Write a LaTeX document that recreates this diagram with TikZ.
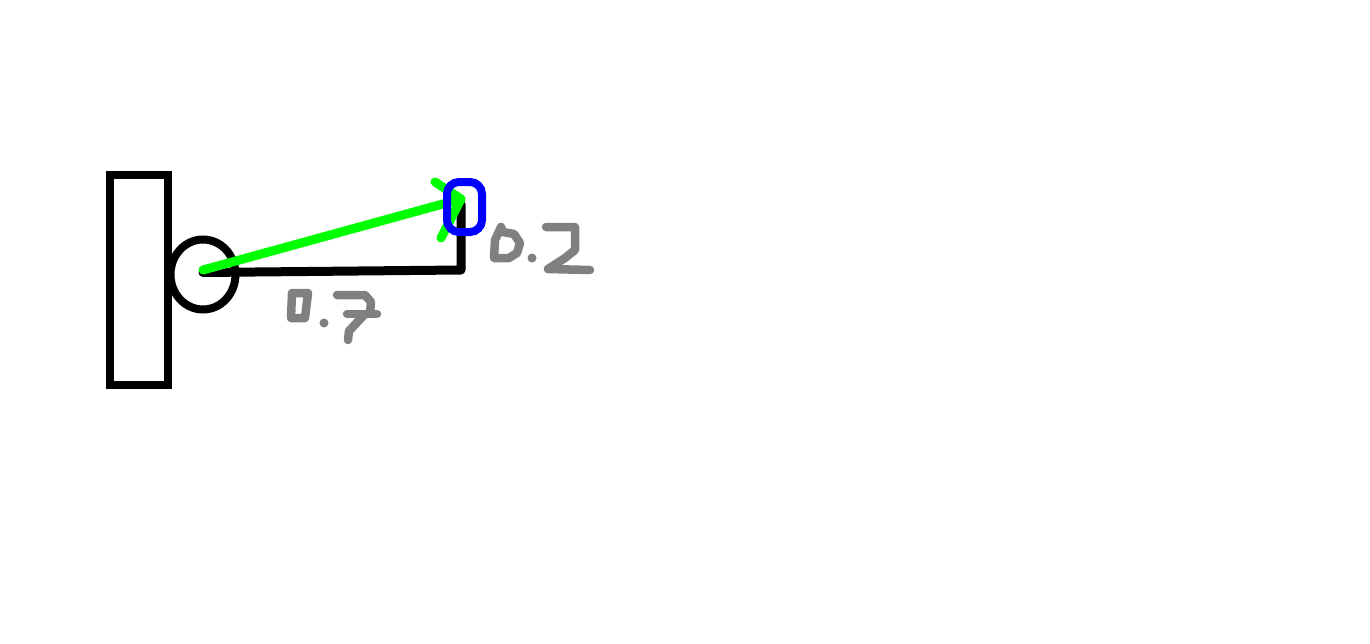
\documentclass[tikz,border=0pt]{standalone}
\tikzset{
  ink/.style={line width=9pt,line cap=round,line join=round},
  wall/.style={draw=black,line width=8pt,fill=white,miter limit=10},
  green line/.style={ink,draw={rgb,255:red,0;green,255;blue,0}},
  blue box/.style={draw={rgb,255:red,0;green,0;blue,255},line width=8pt,rounded corners=12pt},
  hand/.style={draw={rgb,255:red,128;green,128;blue,128},line width=8.5pt,line cap=round,line join=round},
  handdot/.style={fill={rgb,255:red,128;green,128;blue,128}}
}
\begin{document}
\begin{tikzpicture}[x=1pt,y=-1pt]
\useasboundingbox (0,0) rectangle (1370,643);
\fill[white] (0,0) rectangle (1370,643);
% wall and pivot
\draw[wall] (110,175) rectangle (168,385);
\draw[draw=black,line width=8pt] (203,274.5) ellipse [x radius=32.5,y radius=35];
% named points
\coordinate (pivot) at (203,272.5);
\coordinate (elbow) at (461,270);
\coordinate (tip) at (461,204);
\coordinate (gstart) at (203,270);
\coordinate (gtip) at (461,199);
\coordinate (tick a) at (435,182);
\coordinate (tick b) at (441,238);
% black arm
\draw[ink,draw=black] (pivot) -- (elbow) -- (tip);
% green arm
\draw[green line] (gstart) -- (gtip);
\draw[green line] (tick a) -- (gtip) -- (tick b);
% blue marker
\draw[blue box] (447,182) rectangle (482,232);
% handwritten 0.7
\draw[hand] (292,293) -- (308,293) -- (305,318) -- (291,318) -- cycle;
\fill[handdot] (324,323) circle (4.5);
\draw[hand] (337,295) -- (365,295) -- (371,302) -- (370,314);
\draw[hand] (347,314) -- (377,314);
\draw[hand] (364,315) -- (349,331) -- (348,340);
% handwritten 0.2
\draw[hand] (501,227) -- (503,232) -- (514,234) -- (520,243) -- (517,253) -- (509,258) -- (494,258) -- (495,240) -- cycle;
\fill[handdot] (532,258) circle (4.5);
\draw[hand] (546,227) -- (575,227) -- (575,250) -- (565,258) -- (548,269) -- (590,270);
\end{tikzpicture}
\end{document}
